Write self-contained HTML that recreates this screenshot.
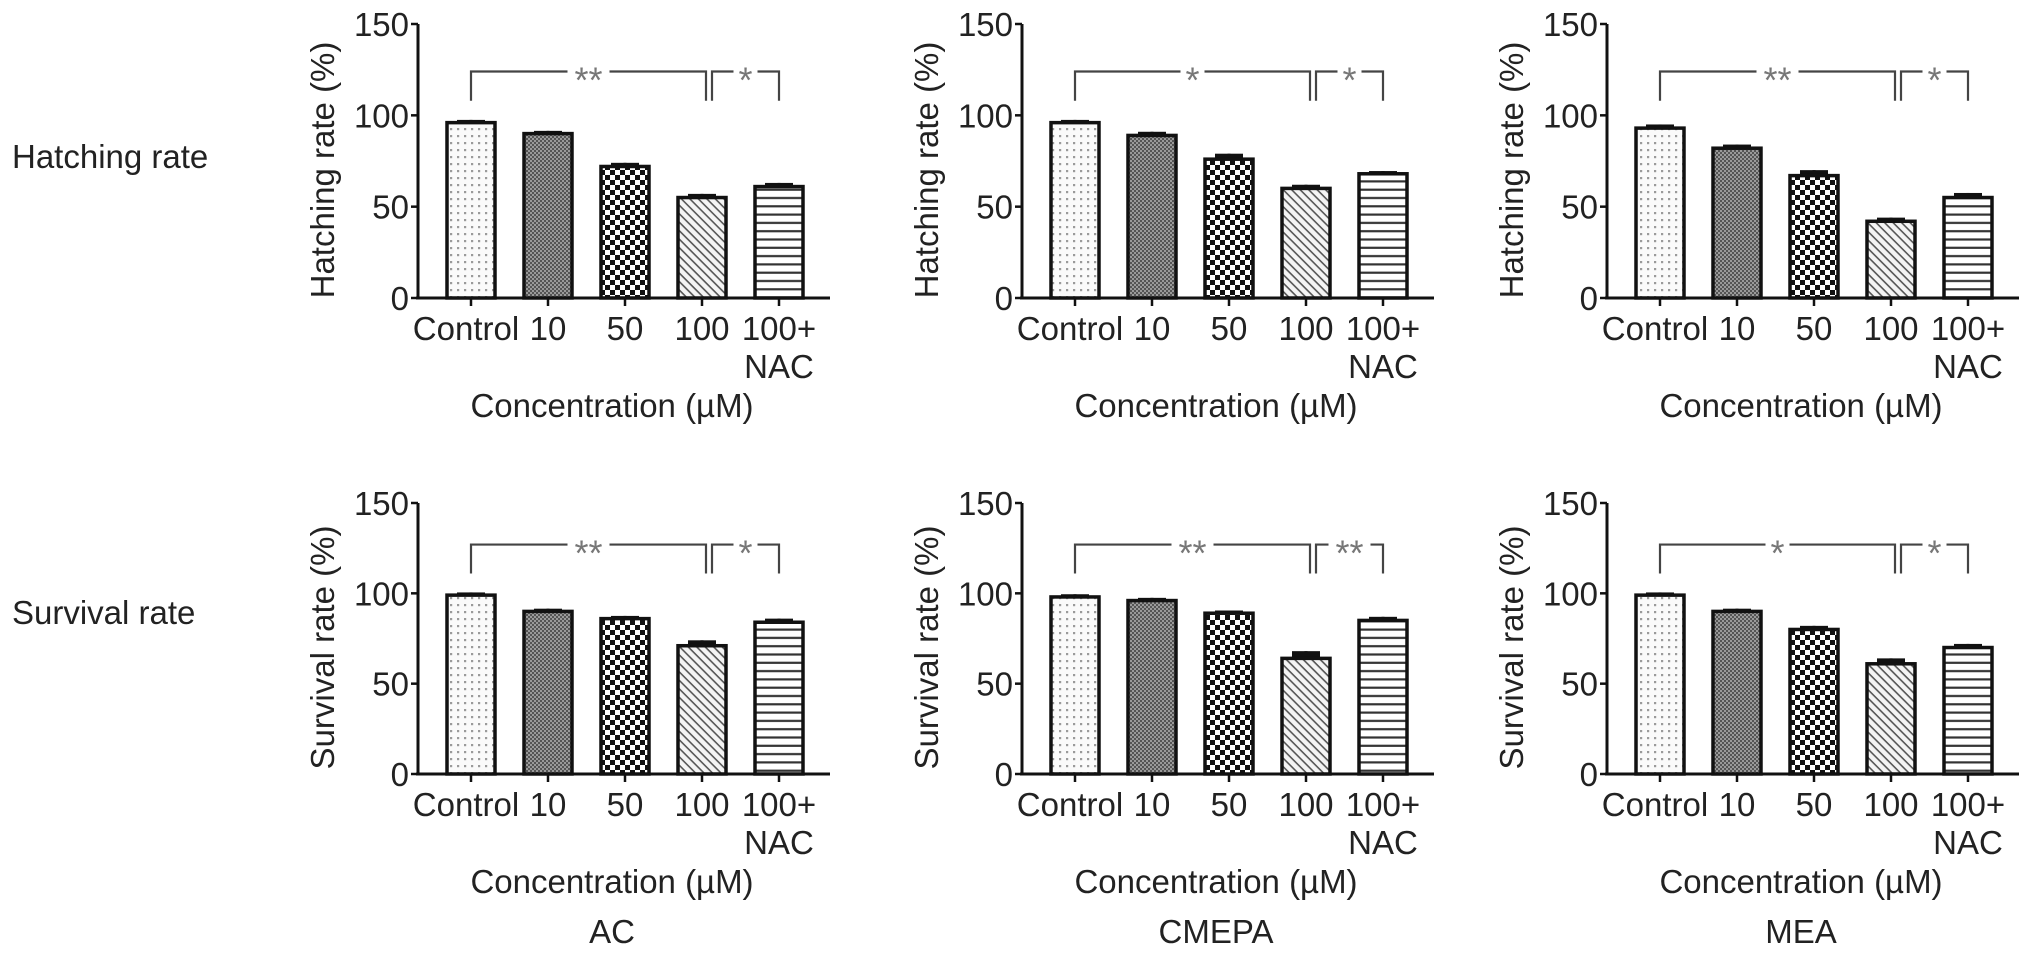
<!DOCTYPE html>
<html><head><meta charset="utf-8"><style>
html,body{margin:0;padding:0;background:#fff;}
svg{display:block;font-family:"Liberation Sans",Arial,sans-serif;}
</style></head><body>
<svg id="fig" width="2032" height="956" viewBox="0 0 2032 956" xmlns="http://www.w3.org/2000/svg">
<defs>
<pattern id="p0" width="7" height="7" patternUnits="userSpaceOnUse"><rect width="7" height="7" fill="#fafafa"/><rect x="2" y="2" width="2.2" height="2.2" fill="#9a9a9a"/></pattern>
<pattern id="p1" width="4" height="4" patternUnits="userSpaceOnUse"><rect width="4" height="4" fill="#9a9a9a"/><rect width="2" height="2" fill="#555"/><rect x="2" y="2" width="2" height="2" fill="#555"/></pattern>
<pattern id="p2" width="10" height="10" patternUnits="userSpaceOnUse"><rect width="10" height="10" fill="#fff"/><rect width="5" height="5" fill="#111"/><rect x="5" y="5" width="5" height="5" fill="#111"/></pattern>
<pattern id="p3" width="6" height="6" patternUnits="userSpaceOnUse" patternTransform="rotate(45)"><rect width="6" height="6" fill="#f4f4f4"/><rect width="6" height="1.6" fill="#555"/></pattern>
<pattern id="p4" width="8" height="8.3" patternUnits="userSpaceOnUse"><rect width="8" height="8.3" fill="#fff"/><rect y="6" width="8" height="2.2" fill="#333"/></pattern>
</defs>
<g id="root"></g>
</svg>
<script>
const categories = ["Control","10","50","100","100+"];
const rowLabels = ["Hatching rate","Survival rate"];
const yTitles = ["Hatching rate (%)","Survival rate (%)"];
const compounds = ["AC","CMEPA","MEA"];
const yTicks = [0,50,100,150];
const hatchAC = [96,90,72,55,61];
const hatchACErr = [1.5,1.5,2,2,2];
const hatchCMEPA = [96,89,76,60,68];
const hatchCMEPAErr = [1.5,2,3,2,1.5];
const hatchMEA = [93,82,67,42,55];
const hatchMEAErr = [2,2,3,2,2.5];
const survAC = [99,90,86,71,84];
const survACErr = [1.5,1.5,1.5,3,2];
const survCMEPA = [98,96,89,64,85];
const survCMEPAErr = [1.5,1.5,1.5,4,2];
const survMEA = [99,90,80,61,70];
const survMEAErr = [1.5,1.5,2,3,2];
const starsHatch = [["**","*"],["*","*"],["**","*"]];
const starsSurv = [["**","*"],["**","**"],["*","*"]];

const NS="http://www.w3.org/2000/svg";
const root=document.getElementById('root');
function mk(tag,attrs,parent){const e=document.createElementNS(NS,tag);for(const k in attrs)e.setAttribute(k,attrs[k]);(parent||root).appendChild(e);return e;}

const axisX=[418,1022,1607];
const rows=[{zero:298,top:24,bracket:124},{zero:774,top:503,bracket:127}];
const series=[[hatchAC,hatchCMEPA,hatchMEA],[survAC,survCMEPA,survMEA]];
const errs=[[hatchACErr,hatchCMEPAErr,hatchMEAErr],[survACErr,survCMEPAErr,survMEAErr]];
const stars=[starsHatch,starsSurv];

rowLabels.forEach((t,r)=>{
  const tx=mk('text',{x:12,y:r===0?168:624,'font-size':33,fill:'#222'});
  tx.textContent=t;
  
  
});

for(let r=0;r<2;r++){
  const R=rows[r];
  const yScale=v=>R.zero-(v/150)*(R.zero-R.top);
  for(let p=0;p<3;p++){
    const ax=axisX[p];
    const xc=i=>ax+53+77*i;
    const g=mk('g',{});
    
    
    const yl=mk('line',{x1:ax,y1:R.top,x2:ax,y2:R.zero+1.5,stroke:'#111','stroke-width':3},g);
    
    
    yTicks.forEach(v=>{
      const y=yScale(v);
      mk('line',{x1:ax-7,y1:y,x2:ax,y2:y,stroke:'#111','stroke-width':2.5},g);
      const t=mk('text',{x:ax-9,y:y+12,'font-size':33,'text-anchor':'end',fill:'#222'},g);
      t.textContent=v;
      
      
    });
    const yt=mk('text',{x:0,y:0,'font-size':33,'text-anchor':'middle',fill:'#222',transform:`translate(${ax-84},${(R.top+R.zero)/2+9}) rotate(-90)`},g);
    yt.textContent=yTitles[r];
    
    
    const xl=mk('line',{x1:ax-2,y1:R.zero,x2:ax+412,y2:R.zero,stroke:'#111','stroke-width':3},g);
    
    
    categories.forEach((c,i)=>{
      mk('line',{x1:xc(i),y1:R.zero,x2:xc(i),y2:R.zero+8,stroke:'#111','stroke-width':2.5},g);
      const t=mk('text',{x:xc(i)+(i===0?-5:0),y:R.zero+42,'font-size':33,'text-anchor':'middle',fill:'#222'},g);
      t.textContent=c;
      
      
      if(i===4){
        const t2=mk('text',{x:xc(i),y:R.zero+80,'font-size':33,'text-anchor':'middle',fill:'#222'},g);
        t2.textContent='NAC';
        
        
      }
    });
    const xt=mk('text',{x:ax+194,y:R.zero+119,'font-size':33,'text-anchor':'middle',fill:'#222'},g);
    xt.textContent='Concentration (\u00b5M)';
    
    
    const vals=series[r][p], er=errs[r][p];
    vals.forEach((v,i)=>{
      const y=yScale(v), ye=yScale(v+er[i]);
      const eb=mk('rect',{x:xc(i)-14,y:ye,width:28,height:Math.max(y-ye,3),fill:'#111'},g);
      
      
      mk('line',{x1:xc(i),y1:ye,x2:xc(i),y2:y,stroke:'#111','stroke-width':3},g);
      const b=mk('rect',{x:xc(i)-24,y:y,width:48,height:R.zero-y,fill:`url(#p${i})`,stroke:'#111','stroke-width':3.5},g);
      
      
    });
    const by=yScale(R.bracket), bd=yScale(R.bracket-16);
    const s=stars[r][p];
    const segs=[[xc(0),xc(3)+4,s[0]],[xc(3)+10,xc(4),s[1]]];
    segs.forEach(([a,b,st],k)=>{
      const pl=mk('polyline',{points:`${a},${bd} ${a},${by} ${b},${by} ${b},${bd}`,fill:'none',stroke:'#444','stroke-width':2.2},g);
      
      
      const mid=(a+b)/2, w=st.length*18+6;
      mk('rect',{x:mid-w/2,y:by-6,width:w,height:12,fill:'#fff'},g);
      const t=mk('text',{x:mid,y:by+21,'font-size':36,'text-anchor':'middle',fill:'#777'},g);
      t.textContent=st;
      
      
    });
  }
}
compounds.forEach((c,p)=>{
  const t=mk('text',{x:axisX[p]+194,y:943,'font-size':33,'text-anchor':'middle',fill:'#222'});
  t.textContent=c;
  
  
});
</script>
</body></html>
